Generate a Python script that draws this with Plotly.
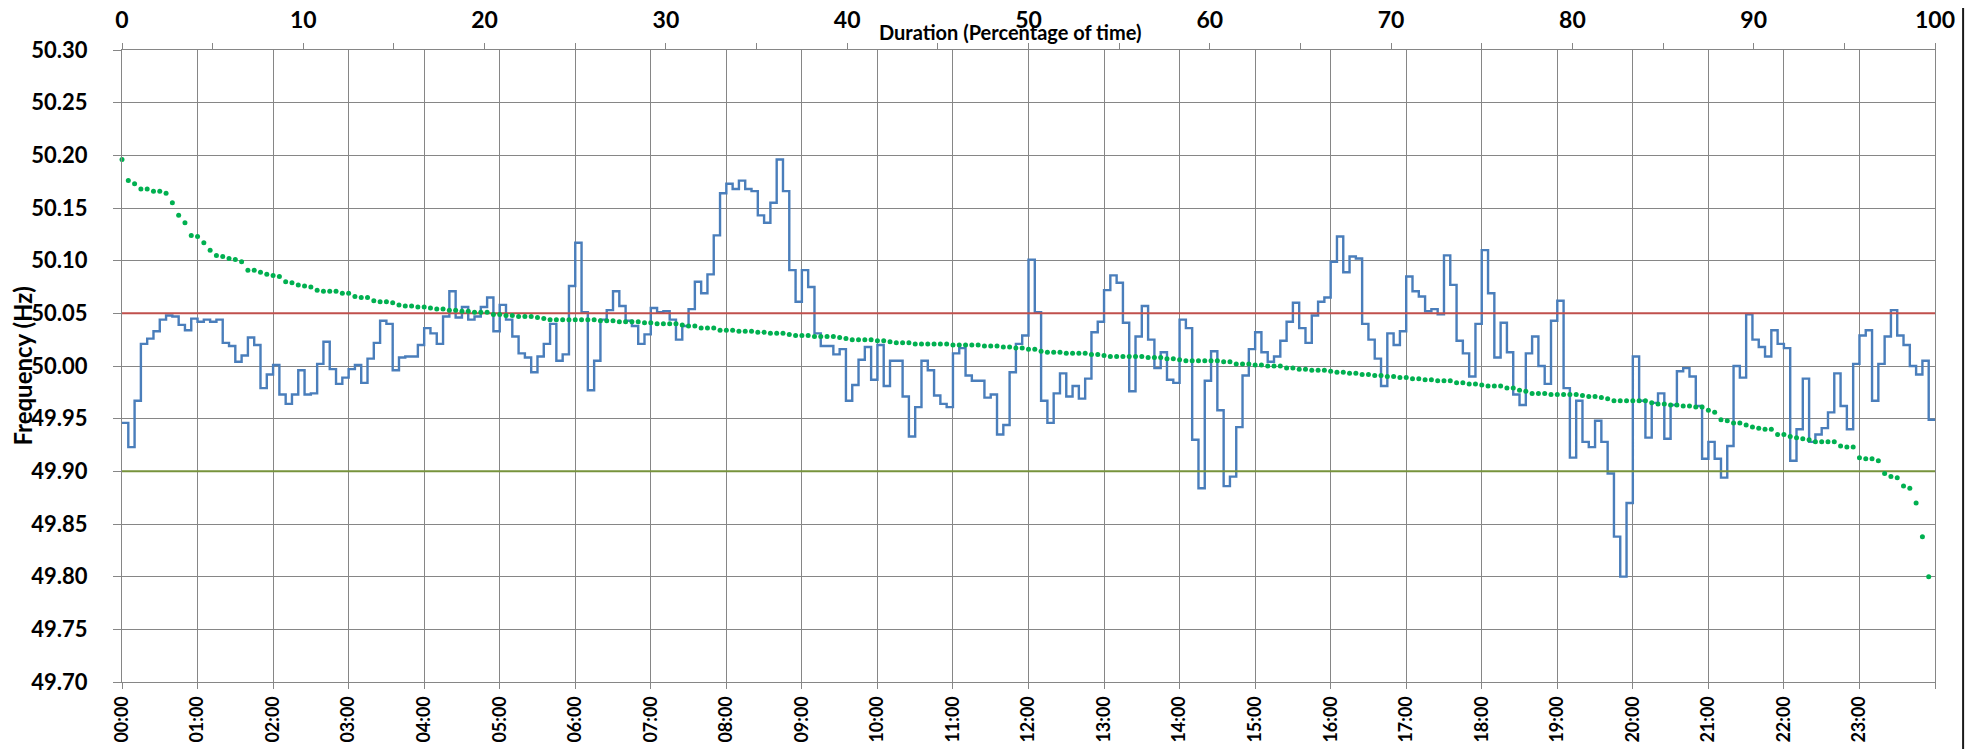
import plotly.graph_objects as go

# ---- data (5-minute frequency readings, Hz) ----
hour_labels = ["00:00", "01:00", "02:00", "03:00", "04:00", "05:00", "06:00", "07:00",
               "08:00", "09:00", "10:00", "11:00", "12:00", "13:00", "14:00", "15:00",
               "16:00", "17:00", "18:00", "19:00", "20:00", "21:00", "22:00", "23:00"]
minute_labels = ["00", "05", "10", "15", "20", "25", "30", "35", "40", "45", "50", "55"]

freq_h00 = [49.946, 49.923, 49.967, 50.021, 50.026, 50.033, 50.044, 50.048, 50.047, 50.039, 50.034, 50.045]
freq_h01 = [50.042, 50.044, 50.042, 50.044, 50.022, 50.019, 50.004, 50.010, 50.027, 50.020, 49.979, 49.992]
freq_h02 = [50.001, 49.973, 49.964, 49.973, 49.996, 49.973, 49.974, 50.002, 50.023, 49.997, 49.983, 49.989]
freq_h03 = [49.997, 50.001, 49.984, 50.007, 50.022, 50.043, 50.040, 49.996, 50.008, 50.009, 50.009, 50.020]
freq_h04 = [50.036, 50.031, 50.021, 50.047, 50.071, 50.046, 50.056, 50.044, 50.047, 50.056, 50.065, 50.033]
freq_h05 = [50.058, 50.044, 50.028, 50.012, 50.008, 49.994, 50.009, 50.021, 50.040, 50.005, 50.011, 50.076]
freq_h06 = [50.117, 50.051, 49.977, 50.005, 50.044, 50.053, 50.071, 50.057, 50.043, 50.038, 50.021, 50.030]
freq_h07 = [50.055, 50.051, 50.052, 50.044, 50.025, 50.038, 50.054, 50.080, 50.069, 50.087, 50.124, 50.164]
freq_h08 = [50.173, 50.168, 50.176, 50.168, 50.166, 50.143, 50.136, 50.155, 50.196, 50.166, 50.091, 50.061]
freq_h09 = [50.091, 50.075, 50.031, 50.019, 50.019, 50.011, 50.016, 49.967, 49.982, 50.006, 50.018, 49.987]
freq_h10 = [50.020, 49.981, 50.005, 50.005, 49.971, 49.933, 49.961, 50.005, 49.996, 49.972, 49.964, 49.961]
freq_h11 = [50.012, 50.017, 49.991, 49.986, 49.986, 49.970, 49.973, 49.935, 49.944, 49.994, 50.021, 50.029]
freq_h12 = [50.101, 50.051, 49.967, 49.946, 49.974, 49.993, 49.971, 49.981, 49.969, 49.988, 50.032, 50.042]
freq_h13 = [50.072, 50.086, 50.079, 50.041, 49.976, 50.028, 50.057, 50.025, 49.998, 50.013, 49.987, 49.984]
freq_h14 = [50.044, 50.036, 49.930, 49.884, 49.986, 50.014, 49.958, 49.886, 49.895, 49.942, 49.991, 50.016]
freq_h15 = [50.032, 50.013, 50.004, 50.009, 50.024, 50.042, 50.060, 50.036, 50.022, 50.048, 50.061, 50.065]
freq_h16 = [50.099, 50.123, 50.089, 50.104, 50.102, 50.040, 50.025, 50.007, 49.981, 50.031, 50.020, 50.033]
freq_h17 = [50.085, 50.071, 50.066, 50.052, 50.054, 50.049, 50.105, 50.077, 50.024, 50.012, 49.990, 50.040]
freq_h18 = [50.110, 50.069, 50.008, 50.041, 50.013, 49.973, 49.963, 50.012, 50.028, 50.000, 49.983, 50.043]
freq_h19 = [50.062, 49.979, 49.913, 49.967, 49.928, 49.923, 49.948, 49.928, 49.898, 49.838, 49.800, 49.870]
freq_h20 = [50.009, 49.967, 49.932, 49.965, 49.974, 49.931, 49.963, 49.995, 49.998, 49.990, 49.962, 49.912]
freq_h21 = [49.928, 49.912, 49.894, 49.924, 50.000, 49.989, 50.049, 50.025, 50.018, 50.009, 50.034, 50.021]
freq_h22 = [50.017, 49.910, 49.940, 49.988, 49.928, 49.935, 49.941, 49.956, 49.993, 49.962, 49.940, 50.002]
freq_h23 = [50.029, 50.034, 49.967, 50.002, 50.028, 50.053, 50.029, 50.020, 50.000, 49.992, 50.005, 49.949]

upper_limit = 50.05
lower_limit = 49.90
duration_ticks = [0, 10, 20, 30, 40, 50, 60, 70, 80, 90, 100]

# ---- assemble ----
hourly = [freq_h00, freq_h01, freq_h02, freq_h03, freq_h04, freq_h05, freq_h06, freq_h07,
          freq_h08, freq_h09, freq_h10, freq_h11, freq_h12, freq_h13, freq_h14, freq_h15,
          freq_h16, freq_h17, freq_h18, freq_h19, freq_h20, freq_h21, freq_h22, freq_h23]
DAY = "2024-01-01 "
NEXT_DAY_START = "2024-01-02 00:00"
times, freq = [], []
for h, vals in zip(hour_labels, hourly):
    for m, v in zip(minute_labels, vals):
        times.append(DAY + h[:2] + ":" + m)
        freq.append(v)
# close the final 5-minute step at the end of the day
step_x = times + [NEXT_DAY_START]
step_y = freq + [freq[-1]]

# duration curve: readings sorted high -> low vs percentage of time
duration_y = sorted(freq, reverse=True)
n = len(duration_y)
duration_x = [100.0 * i / n for i in range(n)]

GRID = "#868686"
FONT = "Lato"

fig = go.Figure()
fig.add_trace(go.Scatter(x=step_x, y=step_y, mode="lines",
                         line=dict(color="#4A7EBB", width=2.4, shape="hv"),
                         xaxis="x", yaxis="y", hoverinfo="skip"))
fig.add_trace(go.Scatter(x=[duration_ticks[0], duration_ticks[-1]], y=[upper_limit, upper_limit],
                         mode="lines", line=dict(color="#C0504D", width=2),
                         xaxis="x2", yaxis="y", hoverinfo="skip"))
fig.add_trace(go.Scatter(x=[duration_ticks[0], duration_ticks[-1]], y=[lower_limit, lower_limit],
                         mode="lines", line=dict(color="#77933C", width=2),
                         xaxis="x2", yaxis="y", hoverinfo="skip"))
fig.add_trace(go.Scatter(x=duration_x, y=duration_y, mode="markers",
                         marker=dict(color="#00B050", size=5, symbol="circle", line=dict(width=0)),
                         xaxis="x2", yaxis="y", cliponaxis=False, hoverinfo="skip"))

tickvals_time = [DAY + h for h in hour_labels] + [NEXT_DAY_START]
ticktext_time = hour_labels + [""]

# the page body adds an 8px offset, so the figure is sized to fit the window
fig.update_layout(
    width=1972, height=741,
    template="none",
    paper_bgcolor="white", plot_bgcolor="white",
    margin=dict(l=114, r=45, t=42, b=67, pad=0),
    showlegend=False,
    font=dict(family=FONT, color="black"),
    xaxis=dict(
        type="date", range=[DAY + "00:00", NEXT_DAY_START],
        tickmode="array", tickvals=tickvals_time, ticktext=ticktext_time,
        tickangle=-90, ticks="outside", ticklen=6, tickwidth=1, tickcolor=GRID,
        ticklabelstandoff=0,
        tickfont=dict(family=FONT, size=18, color="black", weight="bold"),
        showgrid=True, gridcolor=GRID, gridwidth=1,
        showline=True, linecolor=GRID, linewidth=1, mirror=True,
        zeroline=False, automargin=False,
    ),
    xaxis2=dict(
        overlaying="x", side="top", anchor="y",
        range=[duration_ticks[0], duration_ticks[-1]],
        tickmode="array", tickvals=duration_ticks, ticktext=[str(t) for t in duration_ticks],
        ticks="outside", ticklen=6, tickwidth=1, tickcolor=GRID,
        minor=dict(dtick=5, tick0=0, ticks="outside", ticklen=6, tickwidth=1,
                   tickcolor=GRID, showgrid=False),
        ticklabelstandoff=6,
        tickfont=dict(family=FONT, size=23, color="black", weight="bold"),
        showgrid=False, showline=False, zeroline=False, automargin=False,
    ),
    yaxis=dict(
        range=[49.70, 50.30], tick0=49.70, dtick=0.05, tickformat=".2f",
        ticks="outside", ticklen=8, tickwidth=1, tickcolor=GRID,
        ticklabelstandoff=21,
        tickfont=dict(family=FONT, size=22, color="black", weight="bold"),
        showgrid=True, gridcolor=GRID, gridwidth=1,
        showline=True, linecolor=GRID, linewidth=1, mirror=True,
        zeroline=False, automargin=False,
    ),
    annotations=[
        dict(text="Duration (Percentage of time)", xref="paper", yref="paper",
             x=0.490, y=1.0277, xanchor="center", yanchor="middle", showarrow=False,
             font=dict(family=FONT, size=20, color="black", weight="bold")),
        dict(text="Frequency (Hz)", xref="paper", yref="paper",
             x=-0.0554, y=0.5, xanchor="center", yanchor="middle", showarrow=False,
             textangle=-90,
             font=dict(family=FONT, size=24, color="black", weight="bold")),
    ],
    shapes=[
        dict(type="line", xref="paper", yref="paper", x0=1.0155, x1=1.0155,
             y0=-0.2, y1=1.2, line=dict(color="#1a1a1a", width=2)),
    ],
)

fig.write_html("out.html")
